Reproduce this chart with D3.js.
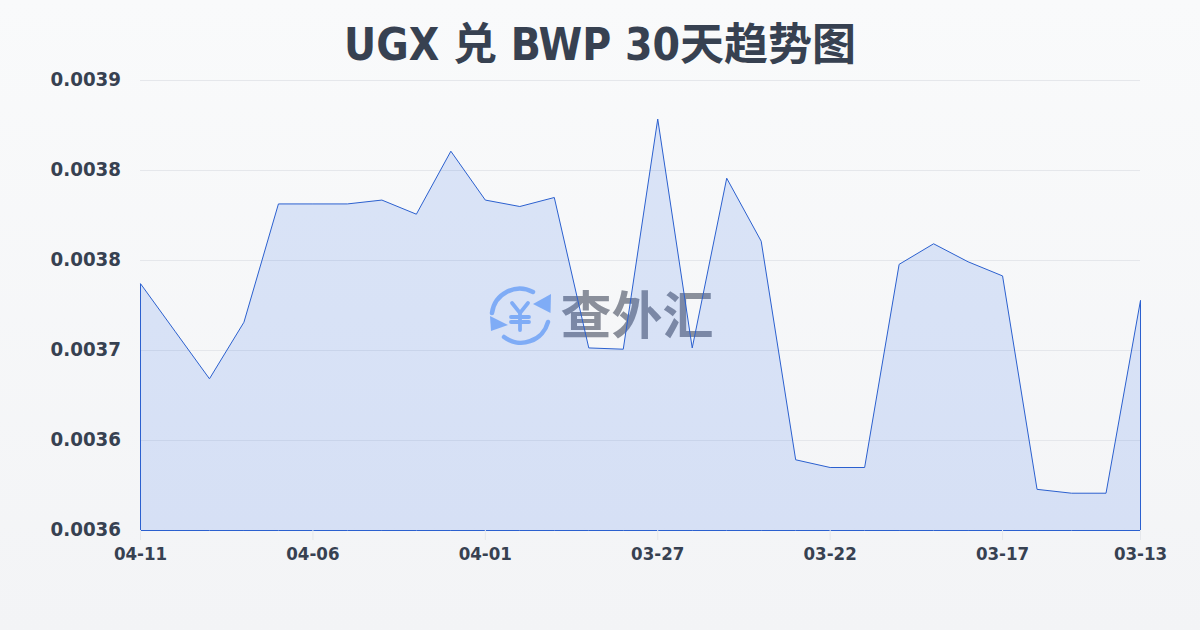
<!DOCTYPE html>
<html><head><meta charset="utf-8">
<script src="https://cdn.jsdelivr.net/npm/d3@7"></script>
<style>html,body{margin:0;padding:0;width:1200px;height:630px;overflow:hidden}svg{display:block}
text{font-family:"DejaVu Sans","Noto Sans CJK SC",sans-serif;font-stretch:condensed}</style></head><body>
<svg id="c" width="1200" height="630"></svg>
<script>
const titleText = "UGX 兑 BWP 30天趋势图";
const watermarkText = "查外汇";
const dates = ["04-11","04-10","04-09","04-08","04-07","04-06","04-05","04-04","04-03","04-02","04-01","03-31","03-30","03-29","03-28","03-27","03-26","03-25","03-24","03-23","03-22","03-21","03-20","03-19","03-18","03-17","03-16","03-15","03-14","03-13"];
const rates = [0.003742,0.003705,0.003668,0.003712,0.003804,0.003804,0.003804,0.003807,0.003796,0.003845,0.003807,0.003802,0.003809,0.003692,0.003691,0.003870,0.003692,0.003824,0.003775,0.003605,0.003599,0.003599,0.003757,0.003773,0.003759,0.003748,0.003582,0.003579,0.003579,0.003729];
const yTicks = [0.00355,0.00362,0.00369,0.00376,0.00383,0.0039];
const yLabels = ["0.0036","0.0036","0.0037","0.0038","0.0038","0.0039"];
const xTicks = ["04-11","04-06","04-01","03-27","03-22","03-17","03-13"];

const svg = d3.select("#c");
const defs = svg.append("defs");
const bg = defs.append("linearGradient").attr("id","bg").attr("x1",0).attr("y1",0).attr("x2",0).attr("y2",1);
bg.append("stop").attr("offset","0%").attr("stop-color","#f9fafb");
bg.append("stop").attr("offset","100%").attr("stop-color","#f3f4f6");
svg.append("rect").attr("width",1200).attr("height",630).attr("fill","url(#bg)");

const x = d3.scalePoint().domain(dates).range([140.5,1140.5]);
const y = d3.scaleLinear().domain([yTicks[0],yTicks[yTicks.length-1]]).range([530.5,80.5]);

svg.append("text").attr("x",600).attr("y",60).attr("text-anchor","middle")
  .attr("font-size",44).attr("font-weight",700).attr("fill","#374151").text(titleText);

svg.append("g").selectAll("line").data(yTicks.slice(1)).join("line")
  .attr("x1",140).attr("x2",1140).attr("y1",d=>y(d)).attr("y2",d=>y(d))
  .attr("stroke","#e5e7eb").attr("stroke-width",1);

// watermark
const wm = svg.append("g");
const ic = wm.append("g").attr("transform","translate(520,315)");
const blue="#8fb8f8";
ic.append("path").attr("d","M-28,-2 A28,28 0 0 1 13,-23").attr("fill","none").attr("stroke",blue).attr("stroke-width",4.5).attr("stroke-linecap","round");
ic.append("path").attr("d","M28,7 A28,28 0 0 1 -16,22").attr("fill","none").attr("stroke",blue).attr("stroke-width",4.5).attr("stroke-linecap","round");
ic.append("path").attr("d","M31,-21 L30.5,-2 L13,-11 Z").attr("fill",blue);
ic.append("path").attr("d","M-30,1 L-12,10 L-29,16 Z").attr("fill",blue);
ic.append("path").attr("d","M-8,-12 L0,-2 L8,-12 M0,-2 L0,15 M-9,2 L9,2 M-9,7 L9,7").attr("fill","none").attr("stroke",blue).attr("stroke-width",3.8).attr("stroke-linecap","round");
wm.append("text").attr("x",560.5).attr("y",334).attr("font-size",51).attr("font-weight",700)
  .attr("fill","#6b7280").attr("fill-opacity",.78).text(watermarkText);

const area = d3.area().x((d,i)=>x(dates[i])).y0(y(yTicks[0])).y1(d=>y(d));
svg.append("path").datum(rates).attr("d",area).attr("fill","#2563eb").attr("fill-opacity",.14)
  .attr("stroke","#2b60cf").attr("stroke-width",1);

const ax = svg.append("g");
ax.selectAll("line").data(xTicks).join("line")
  .attr("x1",d=>x(d)).attr("x2",d=>x(d)).attr("y1",530).attr("y2",540)
  .attr("stroke","#e5e7eb");
ax.selectAll("text").data(xTicks).join("text")
  .attr("x",d=>x(d)).attr("y",560).attr("text-anchor","middle")
  .attr("font-size",18.5).attr("font-weight",700).attr("fill","#374151").text(d=>d);

svg.append("g").selectAll("text").data(yTicks).join("text")
  .attr("x",121).attr("y",d=>y(d)+5.5).attr("text-anchor","end")
  .attr("font-size",20.3).attr("font-weight",700).attr("fill","#374151")
  .text((d,i)=>yLabels[i]);
</script></body></html>
